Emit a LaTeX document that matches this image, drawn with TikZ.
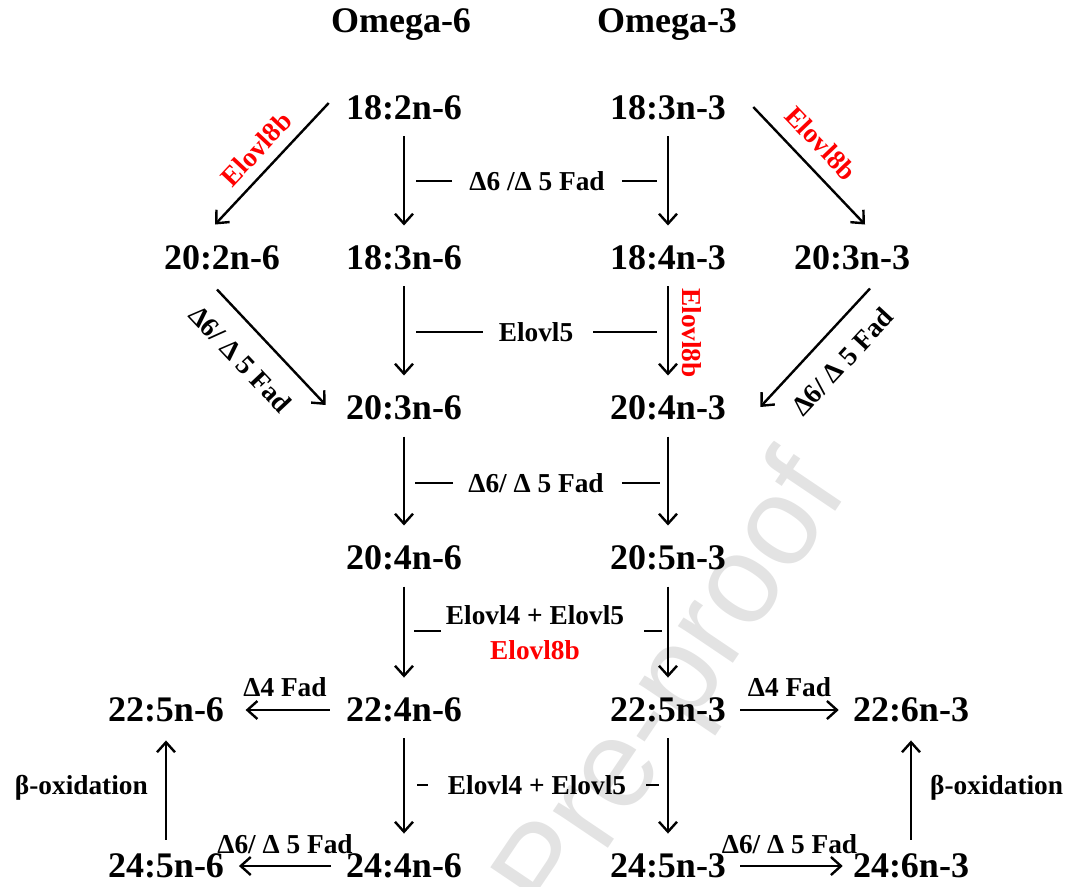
\documentclass[tikz,border=0pt]{standalone}
\usepackage{fontspec}
\setmainfont{Liberation Serif}
\newfontfamily\wmfont{Liberation Sans}
\usetikzlibrary{arrows.meta,calc}
\begin{document}
\begin{tikzpicture}[x=0.75pt,y=-0.75pt,
  fa/.style={font=\bfseries\fontsize{27}{30}\selectfont, inner sep=0pt},
  lab/.style={font=\bfseries\fontsize{20.5}{24}\selectfont, inner sep=0pt},
  rlab/.style={lab, text=red},
  arr/.style={line width=1.8pt, -{Straight Barb[length=7.5pt,width=13.5pt]}},
  varr/.style={arr, shorten <=12pt, shorten >=15pt},
  dsh/.style={line width=1.8pt}]
\useasboundingbox (0,0) rectangle (1068,886);
\begin{scope}
\clip (0,0) rectangle (1068,886);
\node[rotate=56, text=black!11, font=\wmfont\fontsize{94}{94}\selectfont] (wm) at (676,690) {Pre-proof};
\end{scope}
% titles
\node[fa] (t6) at (401,25) {Omega-6};
\node[fa] (t3) at (667,25) {Omega-3};
% fatty acids
\node[fa] (a1) at (404,108) {18:2n-6};
\node[fa] (b1) at (668,108) {18:3n-3};
\node[fa] (a0) at (222,258) {20:2n-6};
\node[fa] (a2) at (404,258) {18:3n-6};
\node[fa] (b2) at (668,258) {18:4n-3};
\node[fa] (b0) at (852,258) {20:3n-3};
\node[fa] (a3) at (404,408) {20:3n-6};
\node[fa] (b3) at (668,408) {20:4n-3};
\node[fa] (a4) at (404,558) {20:4n-6};
\node[fa] (b4) at (668,558) {20:5n-3};
\node[fa] (c5) at (166,710) {22:5n-6};
\node[fa] (a5) at (404,710) {22:4n-6};
\node[fa] (b5) at (668,710) {22:5n-3};
\node[fa] (d5) at (911,710) {22:6n-3};
\node[fa] (c6) at (166,866) {24:5n-6};
\node[fa] (a6) at (404,866) {24:4n-6};
\node[fa] (b6) at (668,866) {24:5n-3};
\node[fa] (d6) at (911,866) {24:6n-3};
% diagonal arrows
\draw[arr] ($(a1.west)+(-17,-5)$) -- ($(a0.north)+(-7,-21)$)
  node[midway, sloped, above=8pt, rlab] (e1) {Elovl8b};
\draw[arr] ($(b1.east)+(27,-1)$) -- ($(b0.north)+(13,-21)$)
  node[pos=0.45, sloped, above=10pt, rlab] (e2) {Elovl8b};
\draw[arr] ($(a0.south)+(-5,19)$) -- ($(a3.west)+(-20,-3)$)
  node[pos=0.42, sloped, below=15pt, lab] (f1) {Δ6/ Δ 5 Fad};
\draw[arr] ($(b0.south)+(18,18)$) -- ($(b3.east)+(34,-1)$)
  node[pos=0.45, sloped, below=14pt, lab] (f2) {Δ6/ Δ 5 Fad};
% vertical arrows
\draw[varr] (a1) -- (a2);
\draw[varr] (b1) -- (b2);
\draw[varr] (a2) -- (a3);
\draw[varr] (b2) -- (b3);
\draw[varr] (a3) -- (a4);
\draw[varr] (b3) -- (b4);
\draw[varr] (a4) -- (a5);
\draw[varr] (b4) -- (b5);
\draw[varr] (a5) -- (a6);
\draw[varr] (b5) -- (b6);
\node[rlab, rotate=-90] (e3) at ($($(b2.south)!0.5!(b3.north)$)+(24,0)$) {Elovl8b};
% middle labels with dashes
\node[lab] (l1) at (537,181) {Δ6 /Δ 5 Fad};
\draw[dsh] ($(l1.west)+(-17,0)$) -- ++(-36,0);
\draw[dsh] ($(l1.east)+(17,0)$) -- ++(35,0);
\node[lab] (l2) at (536,332) {Elovl5};
\draw[dsh] ($(l2.west)+(-16,0)$) -- ++(-67,0);
\draw[dsh] ($(l2.east)+(20,0)$) -- ++(64,0);
\node[lab] (l3) at (536,483) {Δ6/ Δ 5 Fad};
\draw[dsh] ($(l3.west)+(-15,0)$) -- ++(-38,0);
\draw[dsh] ($(l3.east)+(18,0)$) -- ++(38,0);
\node[lab] (l4) at (535,615) {Elovl4 + Elovl5};
\draw[dsh] ($(l4.south west)+(-5,6)$) -- ++(-27,0);
\draw[dsh] ($(l4.south east)+(20,6)$) -- ++(18,0);
\node[rlab] (l4r) at (535,650) {Elovl8b};
\node[lab] (l5) at (537,785) {Elovl4 + Elovl5};
\draw[dsh] ($(l5.west)+(-20,0)$) -- ++(-11,0);
\draw[dsh] ($(l5.east)+(20,0)$) -- ++(13,0);
% horizontal arrows
\draw[arr, shorten <=12pt, shorten >=16pt] (a5) -- (c5)
  node[midway, above=9pt, lab] (h1) {Δ4 Fad};
\draw[arr, shorten <=10.5pt, shorten >=10.5pt] (b5) -- (d5)
  node[midway, above=9pt, lab] (h2) {Δ4 Fad};
\draw[arr, shorten <=11pt, shorten >=11pt] (a6) -- (c6)
  node[midway, above=8.5pt, lab] (h3) {Δ6/ Δ 5 Fad};
\draw[arr, shorten <=10.5pt, shorten >=7.5pt] (b6) -- (d6)
  node[midway, above=8.5pt, lab] (h4) {Δ6/ Δ 5 Fad};
% beta-oxidation
\draw[arr, shorten <=10.5pt, shorten >=13.5pt] (c6) -- (c5)
  node[midway, left=12.75pt, lab] (o1) {β-oxidation};
\draw[arr, shorten <=10.5pt, shorten >=13.5pt] (d6) -- (d5)
  node[midway, right=13.5pt, lab] (o2) {β-oxidation};
\end{tikzpicture}
\end{document}
